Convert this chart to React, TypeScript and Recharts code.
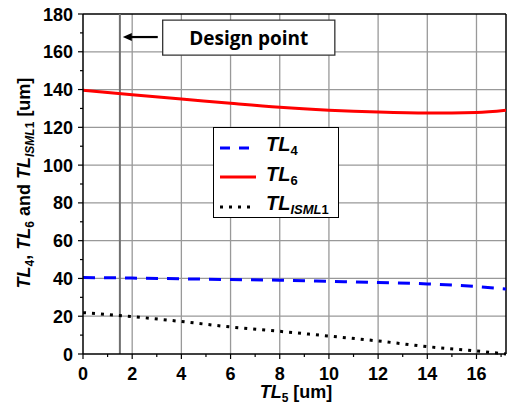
import React from "react";
import {
  ComposedChart,
  Line,
  XAxis,
  YAxis,
  CartesianGrid,
  ReferenceLine,
  ReferenceArea,
  Legend,
} from "recharts";

const tl5 = [0, 2, 4, 6, 8, 10, 12, 14, 16, 17.2];
const tl4 = [40.5, 40.2, 39.8, 39.4, 39.1, 38.5, 37.8, 37.1, 35.7, 34.4];
const tl6 = [139.7, 137.2, 135.0, 132.7, 130.6, 129.1, 128.1, 127.6, 127.9, 129.1];
const tlIsml1 = [21.9, 19.8, 17.2, 14.3, 12.0, 9.5, 6.9, 3.9, 1.6, 0];

const xTicks = [0, 1, 2, 3, 4, 5, 6, 7, 8, 9, 10, 11, 12, 13, 14, 15, 16, 17];
const yTicks = [0, 10, 20, 30, 40, 50, 60, 70, 80, 90, 100, 110, 120, 130, 140, 150, 160, 170, 180];
const xGrid = [2, 4, 6, 8, 10, 12, 14, 16];
const yGrid = [20, 40, 60, 80, 100, 120, 140, 160];
const designPoint = 1.5;

const data = tl5.map((x, i) => ({ x, tl4: tl4[i], tl6: tl6[i], isml: tlIsml1[i] }));

const FONT = "'Liberation Sans', Arial, sans-serif";

function XTick(props: any) {
  const { x, y, payload } = props;
  const major = payload.value % 2 === 0;
  return (
    <g>
      <line x1={x} y1={y} x2={x} y2={y + (major ? 5 : 3)} stroke="#000" strokeWidth={1.2} />
      {major && (
        <text x={x} y={y + 25.5} textAnchor="middle" fontFamily={FONT} fontWeight="bold" fontSize={18} fill="#000">
          {payload.value}
        </text>
      )}
    </g>
  );
}

function YTick(props: any) {
  const { x, y, payload } = props;
  const major = payload.value % 20 === 0;
  return (
    <g>
      <line x1={x} y1={y} x2={x - (major ? 5 : 3)} y2={y} stroke="#000" strokeWidth={1.2} />
      {major && (
        <text x={x - 10} y={y + 6.5} textAnchor="end" fontFamily={FONT} fontWeight="bold" fontSize={18} fill="#000">
          {payload.value}
        </text>
      )}
    </g>
  );
}

function YLabel() {
  return (
    <text
      transform="translate(30, 183) rotate(-90)"
      textAnchor="middle"
      fontFamily={FONT}
      fontWeight="bold"
      fontSize={18}
      fill="#000"
    >
      <tspan fontStyle="italic">TL</tspan>
      <tspan fontSize={12} dy={4}>4</tspan>
      <tspan dy={-4}>, </tspan>
      <tspan fontStyle="italic">TL</tspan>
      <tspan fontSize={12} dy={4}>6</tspan>
      <tspan dy={-4}> and </tspan>
      <tspan fontStyle="italic">TL</tspan>
      <tspan fontSize={12} fontStyle="italic" dy={4}>ISML</tspan>
      <tspan fontSize={12} dy={0}>1</tspan>
      <tspan dy={-4}> [um]</tspan>
    </text>
  );
}

function XLabel() {
  return (
    <text x={296} y={398} textAnchor="middle" fontFamily={FONT} fontWeight="bold" fontSize={18} fill="#000">
      <tspan fontStyle="italic">TL</tspan>
      <tspan fontSize={12} dy={4}>5</tspan>
      <tspan dy={-4}> [um]</tspan>
    </text>
  );
}

function Arrow(props: any) {
  const { x1, y1, x2, y2 } = props;
  return (
    <g>
      <line x1={x1} y1={y1} x2={x2 + 6} y2={y2} stroke="#000" strokeWidth={2.2} />
      <path d={`M${x2},${y2} L${x2 + 9},${y2 - 4} L${x2 + 9},${y2 + 4} Z`} fill="#000" />
    </g>
  );
}

function DesignLabel(props: any) {
  const { viewBox } = props;
  return (
    <text
      x={viewBox.x + viewBox.width / 2}
      y={viewBox.y + viewBox.height / 2 + 7}
      textAnchor="middle"
      fontFamily="'Open Sans', sans-serif"
      fontWeight="bold"
      fontSize={19}
      fill="#000"
    >
      Design point
    </text>
  );
}

const legendItems = [
  { key: "tl4", color: "#0000ff", dash: "10 9", sub: "4", italicSub: "" },
  { key: "tl6", color: "#ff0000", dash: "", sub: "6", italicSub: "" },
  { key: "isml", color: "#000000", dash: "3 6", sub: "1", italicSub: "ISML" },
];

function LegendBox() {
  return (
    <div
      style={{
        border: "1.5px solid #000",
        background: "#fff",
        width: 126,
        height: 91,
        boxSizing: "border-box",
        paddingTop: 5,
      }}
    >
      {legendItems.map((it) => (
        <div key={it.key} style={{ display: "flex", alignItems: "center", height: 29.5 }}>
          <svg width={46} height={10} style={{ marginLeft: 6 }}>
            <line x1={0} y1={5} x2={36} y2={5} stroke={it.color} strokeWidth={3} strokeDasharray={it.dash} />
          </svg>
          <span style={{ fontFamily: FONT, fontWeight: "bold", fontSize: 20, lineHeight: "20px", color: "#000" }}>
            <i>TL</i>
            <sub style={{ fontSize: 13, verticalAlign: -4 }}>
              {it.italicSub && <i>{it.italicSub}</i>}
              {it.sub}
            </sub>
          </span>
        </div>
      ))}
    </div>
  );
}

export default function App() {
  return (
    <div style={{ position: "absolute", left: 0, top: 0, width: 508, height: 409, background: "#fff" }}>
      <ComposedChart width={508} height={409} data={data} margin={{ top: 14, right: 2, left: 0, bottom: 0 }}>
        <CartesianGrid
          horizontalValues={yGrid}
          verticalValues={xGrid}
          stroke="#999"
          strokeWidth={1.3}
        />
        <XAxis
          dataKey="x"
          type="number"
          domain={[0, 17.2]}
          ticks={xTicks}
          interval={0}
          height={55}
          tickSize={0}
          tickMargin={0}
          tickLine={false}
          tick={<XTick />}
          axisLine={{ stroke: "#000", strokeWidth: 1.5 }}
          allowDataOverflow
        />
        <YAxis
          type="number"
          domain={[0, 180]}
          ticks={yTicks}
          interval={0}
          width={83}
          tickSize={0}
          tickMargin={0}
          tickLine={false}
          tick={<YTick />}
          axisLine={{ stroke: "#000", strokeWidth: 1.5 }}
        />
        <ReferenceLine y={180} stroke="#000" strokeWidth={1.5} />
        <ReferenceLine x={17.2} stroke="#000" strokeWidth={1.5} />
        <ReferenceLine x={designPoint} stroke="#707070" strokeWidth={2} />
        <Line
          dataKey="tl4"
          type="monotone"
          stroke="#0000ff"
          strokeWidth={3}
          strokeDasharray="12 9"
          dot={false}
          isAnimationActive={false}
        />
        <Line
          dataKey="tl6"
          type="monotone"
          stroke="#ff0000"
          strokeWidth={3}
          dot={false}
          isAnimationActive={false}
        />
        <Line
          dataKey="isml"
          type="monotone"
          stroke="#000"
          strokeWidth={3}
          strokeDasharray="3 6"
          dot={false}
          isAnimationActive={false}
        />
        <ReferenceArea
          x1={3.24}
          x2={10.24}
          y1={158.2}
          y2={176.8}
          fill="#fff"
          fillOpacity={1}
          stroke="#333"
          strokeWidth={1.3}
          label={<DesignLabel />}
        />
        <ReferenceLine
          segment={[
            { x: 3.04, y: 167.8 },
            { x: 1.62, y: 167.8 },
          ]}
          shape={<Arrow />}
        />
        <Legend
          layout="vertical"
          align="center"
          verticalAlign="middle"
          wrapperStyle={{ position: "absolute", left: 213, top: 127, width: 128, height: 92 }}
          content={<LegendBox />}
        />
        <YLabel />
        <XLabel />
      </ComposedChart>
    </div>
  );
}
